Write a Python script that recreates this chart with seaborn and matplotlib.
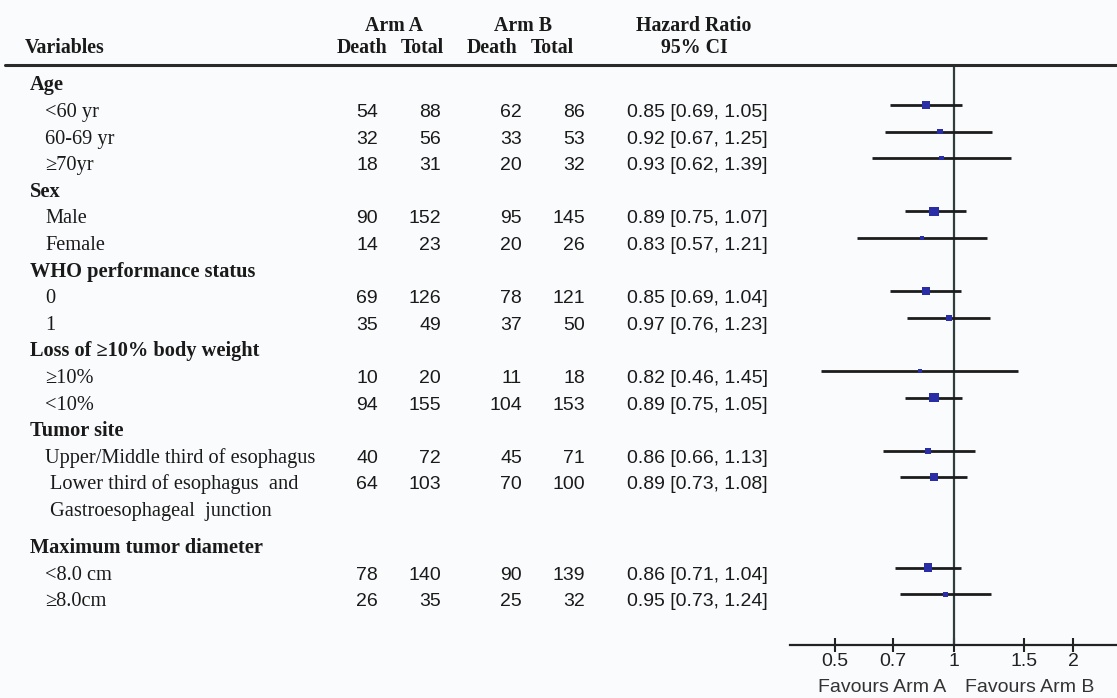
import matplotlib
matplotlib.use("Agg")
import matplotlib.pyplot as plt
from matplotlib.lines import Line2D
import numpy as np
import pandas as pd
import seaborn as sns

# ---------------- data ----------------
labels = ["Age", "<60 yr", "60-69 yr", "≥70yr", "Sex", "Male", "Female",
          "WHO performance status", "0", "1", "Loss of ≥10% body weight",
          "≥10%", "<10%", "Tumor site", "Upper/Middle third of esophagus",
          "Lower third of esophagus  and", "Gastroesophageal  junction",
          "Maximum tumor diameter", "<8.0 cm", "≥8.0cm"]
row_kind = ["group", "item", "item", "item", "group", "item", "item",
            "group", "item", "item", "group",
            "item", "item", "group", "item",
            "wrap", "wrap",
            "group", "item", "item"]
arm_a_death = [None, 54, 32, 18, None, 90, 14, None, 69, 35, None, 10, 94, None, 40, 64, None, None, 78, 26]
arm_a_total = [None, 88, 56, 31, None, 152, 23, None, 126, 49, None, 20, 155, None, 72, 103, None, None, 140, 35]
arm_b_death = [None, 62, 33, 20, None, 95, 20, None, 78, 37, None, 11, 104, None, 45, 70, None, None, 90, 25]
arm_b_total = [None, 86, 53, 32, None, 145, 26, None, 121, 50, None, 18, 153, None, 71, 100, None, None, 139, 32]
hazard_ratio = [None, 0.85, 0.92, 0.93, None, 0.89, 0.83, None, 0.85, 0.97, None, 0.82, 0.89, None, 0.86, 0.89, None, None, 0.86, 0.95]
ci_low = [None, 0.69, 0.67, 0.62, None, 0.75, 0.57, None, 0.69, 0.76, None, 0.46, 0.75, None, 0.66, 0.73, None, None, 0.71, 0.73]
ci_high = [None, 1.05, 1.25, 1.39, None, 1.07, 1.21, None, 1.04, 1.23, None, 1.45, 1.05, None, 1.13, 1.08, None, None, 1.04, 1.24]
x_ticks = [0.5, 0.7, 1, 1.5, 2]
x_tick_labels = ["0.5", "0.7", "1", "1.5", "2"]

# ---------------- layout ----------------
W, H = 1117, 698
SANS = "Liberation Sans"
SERIF = "Liberation Serif"
GAP_AFTER = 16          # extra vertical gap after this row index
GAP = 0.4
ROW0_PX, ROW_PX = 78.4, 26.6
TOP_PX, BOT_PX = 65, 645
FOREST_LEFT_PX = 790

rows = [i + (GAP if i > GAP_AFTER else 0) for i in range(len(labels))]
y_top = (TOP_PX - ROW0_PX) / ROW_PX
y_bot = (BOT_PX - ROW0_PX) / ROW_PX
TEXT_OFF = 0.45

df = pd.DataFrame({"row": rows, "hr": hazard_ratio, "lo": ci_low, "hi": ci_high,
                   "da": arm_a_death, "db": arm_b_death})
df = df.dropna(subset=["hr"]).astype(float)
df["deaths"] = df["da"] + df["db"]

sns.set_theme(style="white")
plt.rcParams["font.family"] = [SANS, "DejaVu Sans"]

fig = plt.figure(figsize=(W / 100, H / 100), dpi=100)
fig.patch.set_facecolor("#fafbfd")

# ---- table axes ----
tax = fig.add_axes([0, 1 - BOT_PX / H, FOREST_LEFT_PX / W, (BOT_PX - TOP_PX) / H])
tax.set_xlim(0, FOREST_LEFT_PX)
tax.set_ylim(y_bot, y_top)
tax.axis("off")
tax.patch.set_alpha(0)

TXT = "#1a1a1a"
FS = 14
FS_SERIF = 14.7
hdr1 = -1.80
hdr2 = -0.97
head_kw = dict(family=SERIF, fontweight="bold", fontsize=14.3, color=TXT, va="baseline", clip_on=False)
tax.text(25, hdr2, "Variables", ha="left", **head_kw)
tax.text(394, hdr1, "Arm A", ha="center", **head_kw)
tax.text(362, hdr2, "Death", ha="center", **head_kw)
tax.text(422, hdr2, "Total", ha="center", **head_kw)
tax.text(523, hdr1, "Arm B", ha="center", **head_kw)
tax.text(492, hdr2, "Death", ha="center", **head_kw)
tax.text(552, hdr2, "Total", ha="center", **head_kw)
tax.text(694, hdr1, "Hazard Ratio", ha="center", **head_kw)
tax.text(694, hdr2, "95% CI", ha="center", **head_kw)

label_x = {"group": 30, "item": 45, "wrap": 50}
for i, (lab, kind) in enumerate(zip(labels, row_kind)):
    y = rows[i] + TEXT_OFF
    tax.text(label_x[kind], y, lab, ha="left", va="baseline", family=SERIF,
             fontweight="bold" if kind == "group" else "normal", fontsize=FS_SERIF, color=TXT)
    if hazard_ratio[i] is None:
        continue
    for xr, v in zip([378, 441, 522, 585], [arm_a_death[i], arm_a_total[i], arm_b_death[i], arm_b_total[i]]):
        tax.text(xr, y, str(v), ha="right", va="baseline", family=SANS, fontsize=FS, color=TXT)
    tax.text(627, y, f"{hazard_ratio[i]:.2f} [{ci_low[i]:.2f}, {ci_high[i]:.2f}]",
             ha="left", va="baseline", family=SANS, fontsize=FS, color=TXT)

# header rule
fig.add_artist(Line2D([5 / W, 1], [1 - TOP_PX / H] * 2, color="#2a2a2a", lw=2.2,
                      transform=fig.transFigure))

# ---- forest axes ----
fax = fig.add_axes([FOREST_LEFT_PX / W, 1 - BOT_PX / H, (W - FOREST_LEFT_PX) / W, (BOT_PX - TOP_PX) / H])
fax.patch.set_alpha(0)
fax.set_xscale("log")
fax.axvline(1, color="#2f3d3d", lw=1.6, zorder=1)
fax.hlines(df["row"], df["lo"], df["hi"], color="#1c1c1c", lw=2.0, zorder=2)
sns.scatterplot(data=df, x="hr", y="row", size="deaths", sizes=(7, 48), marker="s",
                color="#2a2ea6", edgecolor="none", linewidth=0, legend=False, ax=fax, zorder=3)
fax.set_xlim(0.385, 2.584)
fax.set_ylim(y_bot, y_top)
fax.set_xlabel("")
fax.set_ylabel("")
fax.set_yticks([])
fax.xaxis.set_minor_locator(matplotlib.ticker.NullLocator())
fax.set_xticks(x_ticks)
fax.set_xticklabels(x_tick_labels)
fax.tick_params(axis="x", direction="inout", length=10, width=1.5, colors="#222222",
                labelsize=FS, pad=1, bottom=True)
for s in ["left", "right", "top"]:
    fax.spines[s].set_visible(False)
fax.spines["bottom"].set_color("#222222")
fax.spines["bottom"].set_linewidth(1.6)

fig.text(882 / W, 1 - 688 / H, "Favours Arm A", ha="center", va="center",
         family=SANS, fontsize=FS, color="#333333")
fig.text(1030 / W, 1 - 688 / H, "Favours Arm B", ha="center", va="center",
         family=SANS, fontsize=FS, color="#333333")

fig.savefig("out.png", dpi=100, facecolor=fig.get_facecolor())
